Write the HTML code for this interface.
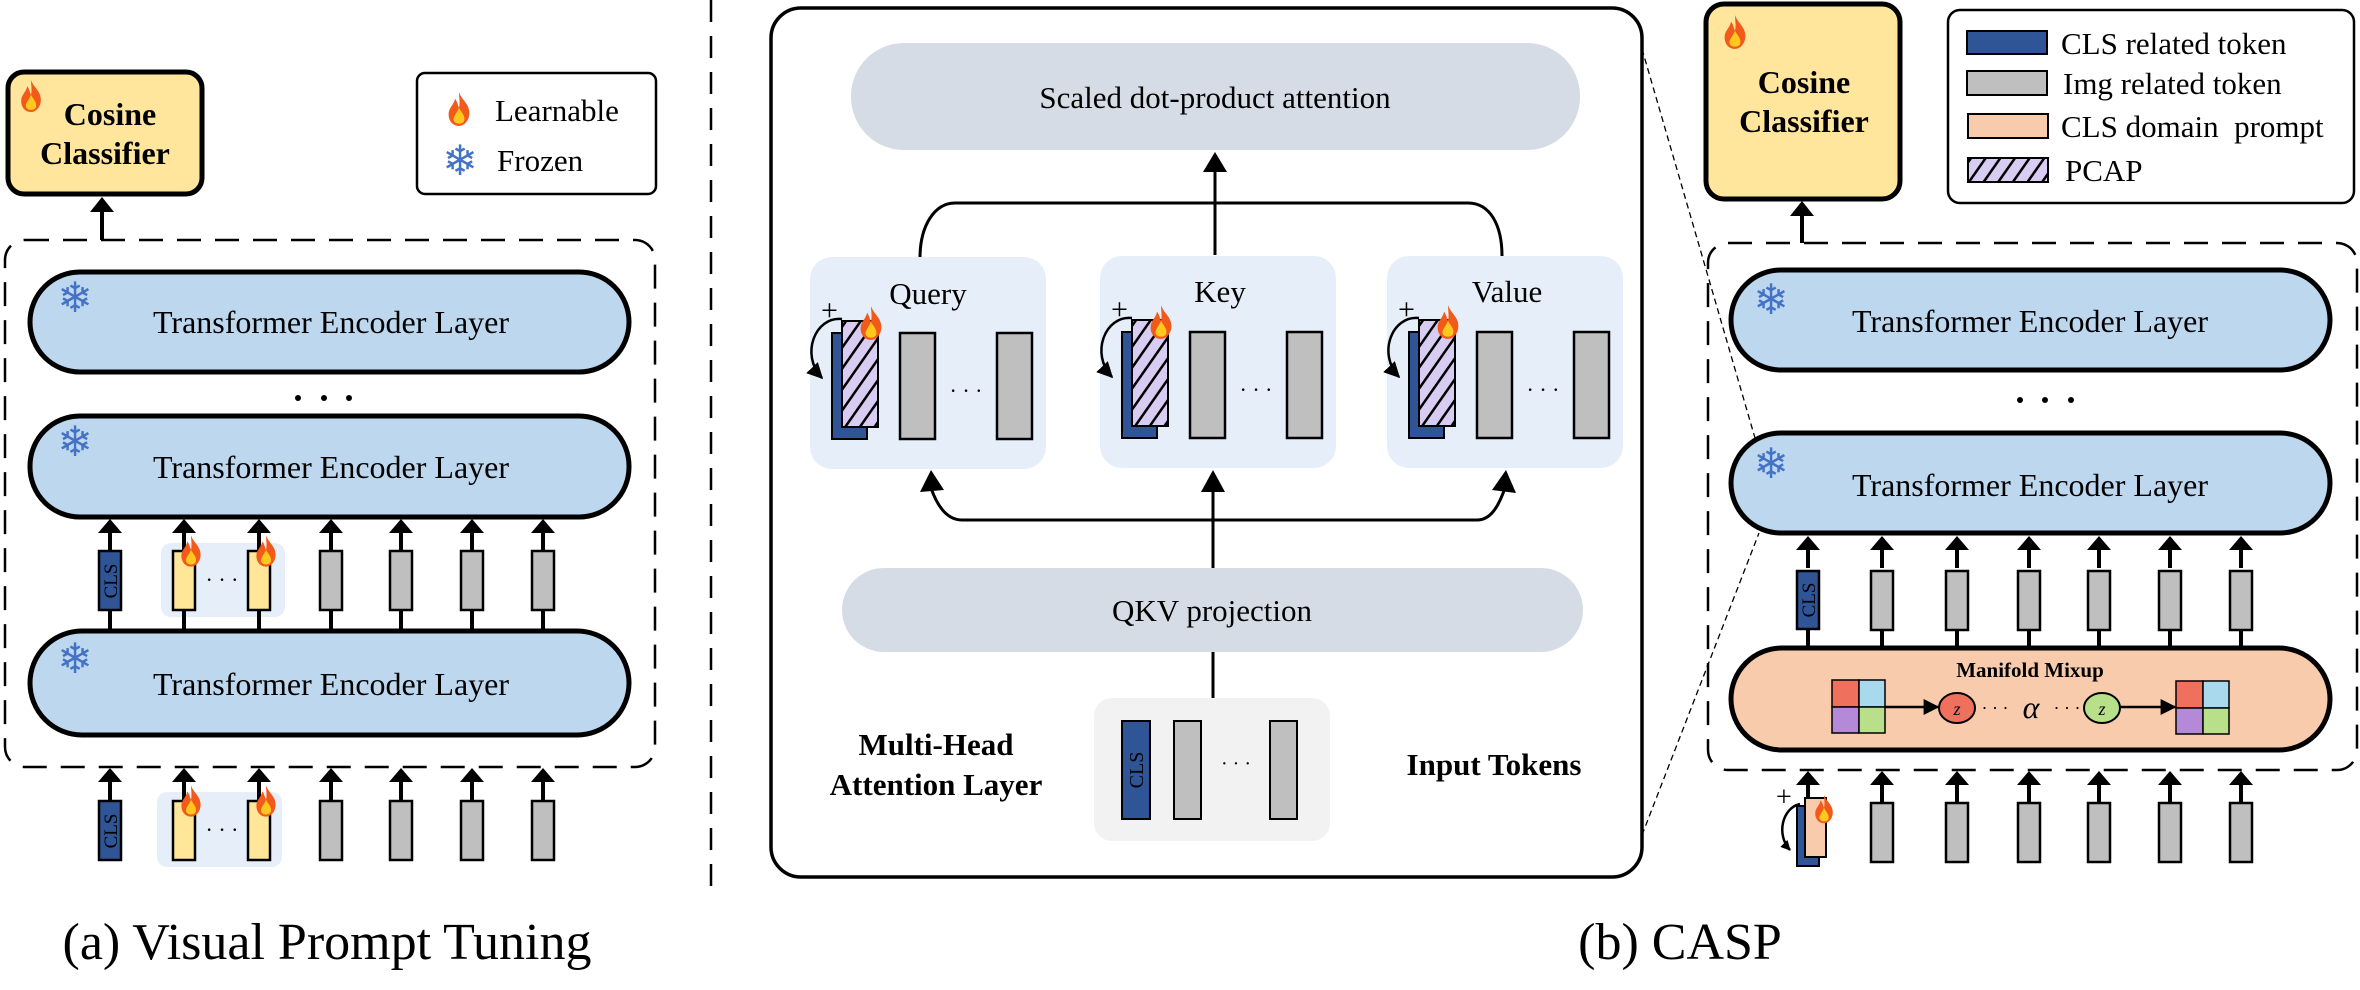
<!DOCTYPE html>
<html><head><meta charset="utf-8"><style>
html,body{margin:0;padding:0;background:#fff;}
svg{display:block;}
svg text{font-family:"Liberation Serif","Times New Roman",Times,serif;fill:#000;}
svg text.b{font-weight:bold;}
svg text.sf{font-family:"DejaVu Sans",sans-serif;fill:#4472c4;font-size:42px;font-weight:bold;}
</style></head><body>
<svg width="2360" height="990" viewBox="0 0 2360 990" xmlns="http://www.w3.org/2000/svg" font-family="Liberation Serif, Times New Roman, serif">
<defs>
<symbol id="fl" viewBox="0 0 20 26">
<path d="M10 0 C12 6 18 9 18 16 C18 22 14 26 10 26 C5 26 2 22 2 17 C2 12 6 10 7 5 C9 8 9 10 10 12 C11 8 10 4 10 0Z" fill="#f25a1c"/>
<path d="M10 12 C12 16 15 18 14 22 C13 25 7 25 6 22 C5 19 8 17 10 12Z" fill="#ffc81e"/>
</symbol>
<pattern id="hat" patternUnits="userSpaceOnUse" width="12" height="12" patternTransform="rotate(35)">
<rect width="12" height="12" fill="#d9ccf2"/><rect width="2.5" height="12" fill="#000"/>
</pattern>
<marker id="ah" viewBox="0 0 10 10" refX="9" refY="5" markerWidth="10" markerHeight="10" markerUnits="userSpaceOnUse" orient="auto"><path d="M0 0 L10 5 L0 10Z" fill="#000"/></marker>
<marker id="ah2" viewBox="0 0 10 10" refX="9" refY="5" markerWidth="16" markerHeight="16" markerUnits="userSpaceOnUse" orient="auto"><path d="M0 0 L10 5 L0 10Z" fill="#000"/></marker>
<g id="tk"><rect x="-11" y="0" width="22" height="59" fill="#bfbfbf" stroke="#000" stroke-width="2.5"/></g>
<g id="ptk"><rect x="-11" y="0" width="22" height="59" fill="#ffe699" stroke="#000" stroke-width="2.5"/></g>
<g id="up"><line x1="0" y1="32" x2="0" y2="10" stroke="#000" stroke-width="4"/><path d="M-12 14 L0 0 L12 14Z" fill="#000"/></g>
</defs>

<!-- ===== Panel (a) ===== -->
<rect x="8" y="72" width="194" height="122" rx="16" fill="#ffe69c" stroke="#000" stroke-width="5"/>
<use href="#fl" x="18" y="80" width="26" height="32"/>
<text x="110" y="125" text-anchor="middle" class="b" font-size="32">Cosine</text>
<text x="105" y="164" text-anchor="middle" class="b" font-size="32">Classifier</text>

<rect x="417" y="73" width="239" height="121" rx="8" fill="#fff" stroke="#000" stroke-width="2.5"/>
<use href="#fl" x="446" y="92" width="26" height="34"/>
<text x="460" y="175" text-anchor="middle" class="sf">❄</text>
<text x="495" y="121" font-size="31">Learnable</text>
<text x="497" y="171" font-size="31">Frozen</text>

<line x1="102" y1="240" x2="102" y2="210" stroke="#000" stroke-width="4"/>
<path d="M90 212 L102 197 L114 212Z"/>
<rect x="5" y="240" width="650" height="527" rx="20" fill="none" stroke="#000" stroke-width="2.5" stroke-dasharray="24 14"/>

<rect x="30" y="272" width="599" height="100" rx="50" fill="#bdd7ee" stroke="#000" stroke-width="5"/>
<text x="331" y="333" text-anchor="middle" font-size="32">Transformer Encoder Layer</text>
<text x="75" y="312" text-anchor="middle" class="sf">❄</text>
<circle cx="298" cy="398" r="3"/><circle cx="324" cy="398" r="3"/><circle cx="349" cy="398" r="3"/>
<rect x="30" y="416" width="599" height="101" rx="50" fill="#bdd7ee" stroke="#000" stroke-width="5"/>
<text x="331" y="478" text-anchor="middle" font-size="32">Transformer Encoder Layer</text>
<text x="75" y="456" text-anchor="middle" class="sf">❄</text>

<rect x="161" y="543" width="124" height="74" rx="10" fill="#e6eff9"/>
<g stroke="#000" stroke-width="4">
<line x1="110" y1="610" x2="110" y2="631"/><line x1="184" y1="610" x2="184" y2="631"/><line x1="259" y1="610" x2="259" y2="631"/>
<line x1="331" y1="610" x2="331" y2="631"/><line x1="401" y1="610" x2="401" y2="631"/><line x1="472" y1="610" x2="472" y2="631"/><line x1="543" y1="610" x2="543" y2="631"/>
</g>
<g transform="translate(0,519)"><use href="#up" x="110"/><use href="#up" x="184"/><use href="#up" x="259"/><use href="#up" x="331"/><use href="#up" x="401"/><use href="#up" x="472"/><use href="#up" x="543"/></g>
<g transform="translate(0,551)">
<rect x="99" y="0" width="22" height="59" fill="#2f5597" stroke="#000" stroke-width="2.5"/>
<use href="#ptk" x="184"/><use href="#ptk" x="259"/><use href="#tk" x="331"/><use href="#tk" x="401"/><use href="#tk" x="472"/><use href="#tk" x="543"/>
</g>
<text transform="translate(117,581) rotate(-90)" text-anchor="middle" font-size="19">CLS</text>
<use href="#fl" x="179" y="535" width="24" height="32"/><use href="#fl" x="254" y="535" width="24" height="32"/>
<text x="222" y="587" text-anchor="middle" font-size="22">· · ·</text>

<rect x="30" y="631" width="599" height="104" rx="52" fill="#bdd7ee" stroke="#000" stroke-width="5"/>
<text x="331" y="695" text-anchor="middle" font-size="32">Transformer Encoder Layer</text>
<text x="75" y="673" text-anchor="middle" class="sf">❄</text>

<rect x="157" y="792" width="125" height="75" rx="10" fill="#e6eff9"/>
<g transform="translate(0,768)"><use href="#up" x="110"/><use href="#up" x="184"/><use href="#up" x="259"/><use href="#up" x="331"/><use href="#up" x="401"/><use href="#up" x="472"/><use href="#up" x="543"/></g>
<g transform="translate(0,801)">
<rect x="99" y="0" width="22" height="59" fill="#2f5597" stroke="#000" stroke-width="2.5"/>
<use href="#ptk" x="184"/><use href="#ptk" x="259"/><use href="#tk" x="331"/><use href="#tk" x="401"/><use href="#tk" x="472"/><use href="#tk" x="543"/>
</g>
<text transform="translate(117,831) rotate(-90)" text-anchor="middle" font-size="19">CLS</text>
<use href="#fl" x="179" y="785" width="24" height="32"/><use href="#fl" x="254" y="785" width="24" height="32"/>
<text x="222" y="837" text-anchor="middle" font-size="22">· · ·</text>

<text x="327" y="959" text-anchor="middle" font-size="52">(a) Visual Prompt Tuning</text>

<line x1="711" y1="0" x2="711" y2="886" stroke="#000" stroke-width="2.5" stroke-dasharray="22 14"/>

<!-- ===== Middle ===== -->
<rect x="771" y="8" width="871" height="869" rx="30" fill="#fff" stroke="#000" stroke-width="3.5"/>
<rect x="851" y="43" width="729" height="107" rx="53" fill="#d6dce5"/>
<text x="1215" y="108" text-anchor="middle" font-size="31">Scaled dot-product attention</text>
<line x1="1215" y1="255" x2="1215" y2="168" stroke="#000" stroke-width="3"/>
<path d="M1203 172 L1215 152 L1227 172Z"/>
<path d="M920 258 C920 225 935 203 955 203 L1468 203 C1490 203 1502 225 1502 256" fill="none" stroke="#000" stroke-width="3"/>

<g id="qb">
<rect x="810" y="257" width="236" height="212" rx="22" fill="#e6eff9"/>
<rect x="832" y="333" width="35" height="106" fill="#2f5597" stroke="#000" stroke-width="2"/>
<rect x="842" y="321" width="36" height="106" fill="url(#hat)" stroke="#000" stroke-width="2"/>
<rect x="900" y="333" width="35" height="106" fill="#bfbfbf" stroke="#000" stroke-width="2.5"/>
<rect x="997" y="333" width="35" height="106" fill="#bfbfbf" stroke="#000" stroke-width="2.5"/>
<text x="966" y="398" text-anchor="middle" font-size="22">· · ·</text>
<text x="821" y="320" font-size="30">+</text>
<path d="M842 319 C815 316 800 355 822 378" fill="none" stroke="#000" stroke-width="2.5" marker-end="url(#ah2)"/>
<use href="#fl" x="858" y="300" width="26" height="46"/>
</g>
<use href="#qb" x="290" y="-1"/>
<use href="#qb" x="577" y="-1"/>
<text x="928" y="304" text-anchor="middle" font-size="31">Query</text>
<text x="1220" y="302" text-anchor="middle" font-size="31">Key</text>
<text x="1507" y="302" text-anchor="middle" font-size="31">Value</text>

<path d="M931 488 C938 508 948 520 962 520 L1477 520 C1490 520 1498 508 1505 488" fill="none" stroke="#000" stroke-width="3"/>
<path d="M920 492 L931 470 L944 490Z"/><path d="M1492 490 L1506 470 L1516 493Z"/>
<line x1="1213" y1="568" x2="1213" y2="488" stroke="#000" stroke-width="3"/>
<path d="M1201 492 L1213 470 L1225 492Z"/>

<rect x="842" y="568" width="741" height="84" rx="42" fill="#d6dce5"/>
<text x="1212" y="621" text-anchor="middle" font-size="31">QKV projection</text>
<line x1="1213" y1="652" x2="1213" y2="698" stroke="#000" stroke-width="3"/>
<rect x="1094" y="698" width="236" height="143" rx="18" fill="#f2f2f2"/>
<rect x="1122" y="721" width="28" height="98" fill="#2f5597" stroke="#000" stroke-width="2"/>
<text transform="translate(1143,770) rotate(-90)" text-anchor="middle" font-size="20">CLS</text>
<rect x="1174" y="721" width="27" height="98" fill="#bfbfbf" stroke="#000" stroke-width="2"/>
<rect x="1270" y="721" width="27" height="98" fill="#bfbfbf" stroke="#000" stroke-width="2"/>
<text x="1236" y="770" text-anchor="middle" font-size="20">· · ·</text>
<text x="936" y="755" text-anchor="middle" class="b" font-size="31">Multi-Head</text>
<text x="936" y="795" text-anchor="middle" class="b" font-size="31">Attention Layer</text>
<text x="1494" y="775" text-anchor="middle" class="b" font-size="31">Input Tokens</text>

<line x1="1642" y1="49" x2="1755" y2="438" stroke="#000" stroke-width="1.3" stroke-dasharray="6 4"/>
<line x1="1642" y1="835" x2="1759" y2="533" stroke="#000" stroke-width="1.3" stroke-dasharray="6 4"/>

<text x="1680" y="959" text-anchor="middle" font-size="52">(b) CASP</text>

<!-- ===== Right panel ===== -->
<rect x="1706" y="4" width="194" height="195" rx="18" fill="#ffe69c" stroke="#000" stroke-width="5"/>
<use href="#fl" x="1722" y="15" width="26" height="34"/>
<text x="1804" y="93" text-anchor="middle" class="b" font-size="32">Cosine</text>
<text x="1804" y="132" text-anchor="middle" class="b" font-size="32">Classifier</text>

<rect x="1948" y="10" width="406" height="193" rx="12" fill="#fff" stroke="#000" stroke-width="2.5"/>
<rect x="1967" y="31" width="80" height="23" fill="#2f5597" stroke="#000" stroke-width="2"/>
<rect x="1967" y="71" width="80" height="24" fill="#bfbfbf" stroke="#000" stroke-width="2"/>
<rect x="1968" y="114" width="80" height="24" fill="#f8cbad" stroke="#000" stroke-width="2"/>
<rect x="1968" y="158" width="80" height="24" fill="url(#hat)" stroke="#000" stroke-width="2"/>
<text x="2061" y="54" font-size="31">CLS related token</text>
<text x="2063" y="94" font-size="31">Img related token</text>
<text x="2061" y="137" font-size="31" xml:space="preserve">CLS domain  prompt</text>
<text x="2065" y="181" font-size="31">PCAP</text>

<line x1="1802" y1="243" x2="1802" y2="214" stroke="#000" stroke-width="4"/>
<path d="M1790 216 L1802 201 L1814 216Z"/>
<rect x="1708" y="243" width="649" height="527" rx="20" fill="none" stroke="#000" stroke-width="2.5" stroke-dasharray="24 14"/>

<rect x="1731" y="270" width="599" height="100" rx="50" fill="#bdd7ee" stroke="#000" stroke-width="5"/>
<text x="2030" y="332" text-anchor="middle" font-size="32">Transformer Encoder Layer</text>
<text x="1771" y="314" text-anchor="middle" class="sf">❄</text>
<circle cx="2020" cy="400" r="3"/><circle cx="2045" cy="400" r="3"/><circle cx="2071" cy="400" r="3"/>
<rect x="1731" y="433" width="599" height="100" rx="50" fill="#bdd7ee" stroke="#000" stroke-width="5"/>
<text x="2030" y="496" text-anchor="middle" font-size="32">Transformer Encoder Layer</text>
<text x="1771" y="478" text-anchor="middle" class="sf">❄</text>

<g stroke="#000" stroke-width="4">
<line x1="1808" y1="629" x2="1808" y2="648"/><line x1="1882" y1="629" x2="1882" y2="648"/><line x1="1957" y1="629" x2="1957" y2="648"/>
<line x1="2029" y1="629" x2="2029" y2="648"/><line x1="2099" y1="629" x2="2099" y2="648"/><line x1="2170" y1="629" x2="2170" y2="648"/><line x1="2241" y1="629" x2="2241" y2="648"/>
</g>
<g transform="translate(0,536)"><use href="#up" x="1808"/><use href="#up" x="1882"/><use href="#up" x="1957"/><use href="#up" x="2029"/><use href="#up" x="2099"/><use href="#up" x="2170"/><use href="#up" x="2241"/></g>
<g transform="translate(0,571)">
<rect x="1797" y="0" width="22" height="58" fill="#2f5597" stroke="#000" stroke-width="2.5"/>
<use href="#tk" x="1882"/><use href="#tk" x="1957"/><use href="#tk" x="2029"/><use href="#tk" x="2099"/><use href="#tk" x="2170"/><use href="#tk" x="2241"/>
</g>
<text transform="translate(1815,600) rotate(-90)" text-anchor="middle" font-size="19">CLS</text>

<rect x="1731" y="648" width="599" height="102" rx="51" fill="#f8cbad" stroke="#000" stroke-width="5"/>
<text x="2030" y="677" text-anchor="middle" class="b" font-size="21">Manifold Mixup</text>
<g stroke="#000" stroke-width="1.5">
<rect x="1832" y="680" width="27" height="27" fill="#f0705e"/><rect x="1859" y="680" width="26" height="27" fill="#a9d9ec"/>
<rect x="1832" y="707" width="27" height="26" fill="#b48ad8"/><rect x="1859" y="707" width="26" height="26" fill="#b8e08a"/>
<rect x="2176" y="681" width="27" height="27" fill="#f0705e"/><rect x="2203" y="681" width="26" height="27" fill="#a9d9ec"/>
<rect x="2176" y="708" width="27" height="26" fill="#b48ad8"/><rect x="2203" y="708" width="26" height="26" fill="#b8e08a"/>
</g>
<line x1="1885" y1="707" x2="1938" y2="707" stroke="#000" stroke-width="2.5" marker-end="url(#ah2)"/>
<line x1="2120" y1="707" x2="2175" y2="707" stroke="#000" stroke-width="2.5" marker-end="url(#ah2)"/>
<ellipse cx="1957" cy="708" rx="18" ry="15" fill="#f0705e" stroke="#000" stroke-width="2"/>
<ellipse cx="2102" cy="708" rx="18" ry="15" fill="#b8e08a" stroke="#000" stroke-width="2"/>
<text x="1957" y="715" text-anchor="middle" font-size="18" font-style="italic">z</text>
<text x="2102" y="715" text-anchor="middle" font-size="18" font-style="italic">z</text>
<text x="1995" y="714" text-anchor="middle" font-size="18">· · ·</text>
<text x="2031" y="718" text-anchor="middle" font-size="32" font-style="italic">α</text>
<text x="2067" y="714" text-anchor="middle" font-size="18">· · ·</text>

<g transform="translate(0,771)"><use href="#up" x="1808"/><use href="#up" x="1882"/><use href="#up" x="1957"/><use href="#up" x="2029"/><use href="#up" x="2099"/><use href="#up" x="2170"/><use href="#up" x="2241"/></g>
<g transform="translate(0,803)">
<use href="#tk" x="1882"/><use href="#tk" x="1957"/><use href="#tk" x="2029"/><use href="#tk" x="2099"/><use href="#tk" x="2170"/><use href="#tk" x="2241"/>
</g>
<rect x="1797" y="806" width="22" height="60" fill="#2f5597" stroke="#000" stroke-width="2"/>
<rect x="1805" y="798" width="21" height="59" fill="#f8cbad" stroke="#000" stroke-width="2"/>
<text x="1776" y="806" font-size="28">+</text>
<path d="M1800 804 C1782 808 1776 835 1790 850" fill="none" stroke="#000" stroke-width="2.5" marker-end="url(#ah)"/>
<use href="#fl" x="1813" y="793" width="22" height="32"/>
</svg>
</body></html>
